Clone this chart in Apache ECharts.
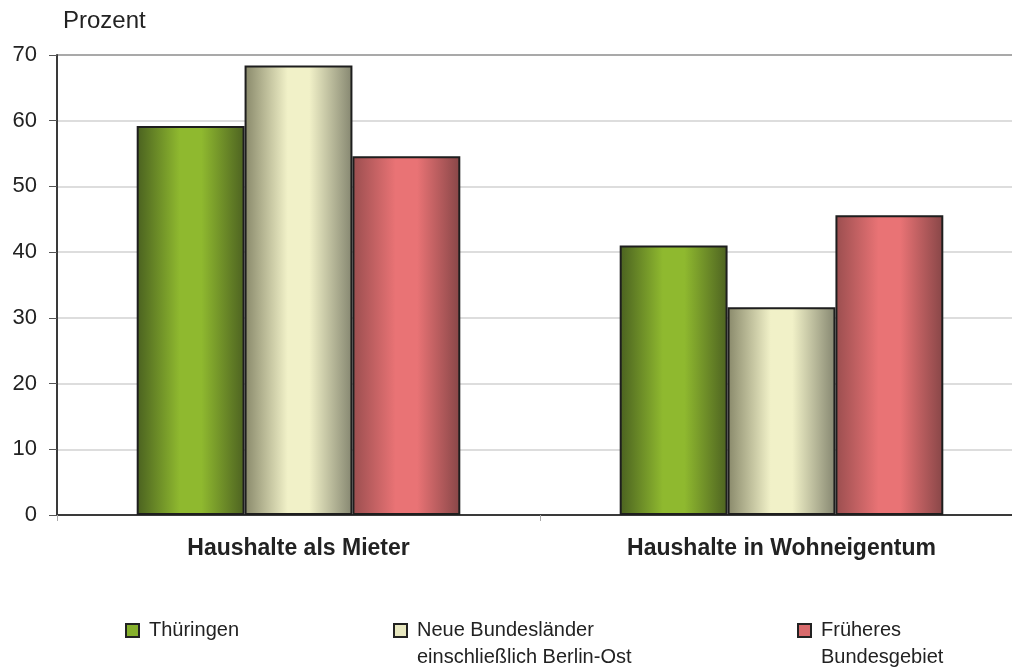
<!DOCTYPE html>
<html><head><meta charset="utf-8">
<script src="https://cdn.jsdelivr.net/npm/echarts@6/dist/echarts.min.js"></script>
<style>html,body{margin:0;padding:0;background:#fff}#c{width:1012px;height:668px}</style>
</head><body><div id="c"></div>
<script>
const categories = ['Haushalte als Mieter', 'Haushalte in Wohneigentum'];
const seriesNames = ['Thüringen', 'Neue Bundesländer\neinschließlich Berlin-Ost', 'Früheres\nBundesgebiet'];
const thueringen = [59.2, 41.0];
const neueLaender = [68.4, 31.6];
const frueheres = [54.6, 45.6];
const yTicks = [0, 10, 20, 30, 40, 50, 60, 70];

function grad(edgeL, mid, edgeR) {
  return new echarts.graphic.LinearGradient(0, 0, 1, 0, [
    {offset: 0, color: edgeL}, {offset: 0.4, color: mid}, {offset: 0.6, color: mid}, {offset: 1, color: edgeR}
  ]);
}
const fills = [
  grad('#4a6120', '#8fb92f', '#4d6221'),
  grad('#88886a', '#f1f1c8', '#858670'),
  grad('#9a4e4f', '#e97375', '#874647')
];
const legendColors = ['#86b02c', '#e8e8c0', '#d86a6c'];
const values = [thueringen, neueLaender, frueheres];
const FONT = '"Liberation Sans", Arial, sans-serif';

const chart = echarts.init(document.getElementById('c'), null, {renderer: 'canvas'});
const splitColors = yTicks.map((t, i) => i === yTicks.length - 1 ? '#8c8c8c' : '#d2d2d2');

const legendPos = [[125, 617], [393, 590], [797, 590]];
chart.setOption({
  animation: false,
  backgroundColor: '#ffffff',
  grid: {left: 57, top: 55, width: 966, height: 460, containLabel: false, outerBoundsMode: 'none'},
  xAxis: {
    type: 'category', data: categories,
    axisLine: {lineStyle: {color: '#3a3a3a', width: 2}},
    axisTick: {show: true, length: 6, lineStyle: {color: '#aaaaaa'}},
    axisLabel: {fontFamily: FONT, fontSize: 23, fontWeight: 'bold', color: '#222', margin: 22}
  },
  yAxis: {
    type: 'value', min: 0, max: 70, interval: 10,
    name: 'Prozent', nameLocation: 'end', nameGap: 22,
    nameTextStyle: {fontFamily: FONT, fontSize: 24, color: '#222', align: 'left', padding: [0, 0, 0, 6]},
    axisLine: {show: true, lineStyle: {color: '#3a3a3a', width: 2}},
    axisTick: {show: true, length: 8, lineStyle: {color: '#555'}},
    axisLabel: {fontFamily: FONT, fontSize: 22, color: '#222', margin: 20},
    splitLine: {show: true, lineStyle: {color: splitColors, width: 1.5}}
  },
  legend: seriesNames.map((n, i) => ({
    data: [{name: n, itemStyle: {color: legendColors[i], borderColor: '#222', borderWidth: 2}}],
    formatter: (name) => name.indexOf('\n') >= 0 ? ' \n' + name : name,
    left: legendPos[i][0], top: legendPos[i][1], padding: 0,
    icon: 'rect', itemWidth: 13, itemHeight: 13,
    textStyle: {fontFamily: FONT, fontSize: 20, color: '#222', lineHeight: 27, padding: [0, 0, 0, 5]},
    selectedMode: false
  })),
  series: values.map((v, i) => ({
    type: 'bar', name: seriesNames[i], data: v,
    barGap: '0%', barCategoryGap: '33%',
    itemStyle: {color: fills[i], borderColor: '#1e1e1e', borderWidth: 2}
  }))
});
</script></body></html>
